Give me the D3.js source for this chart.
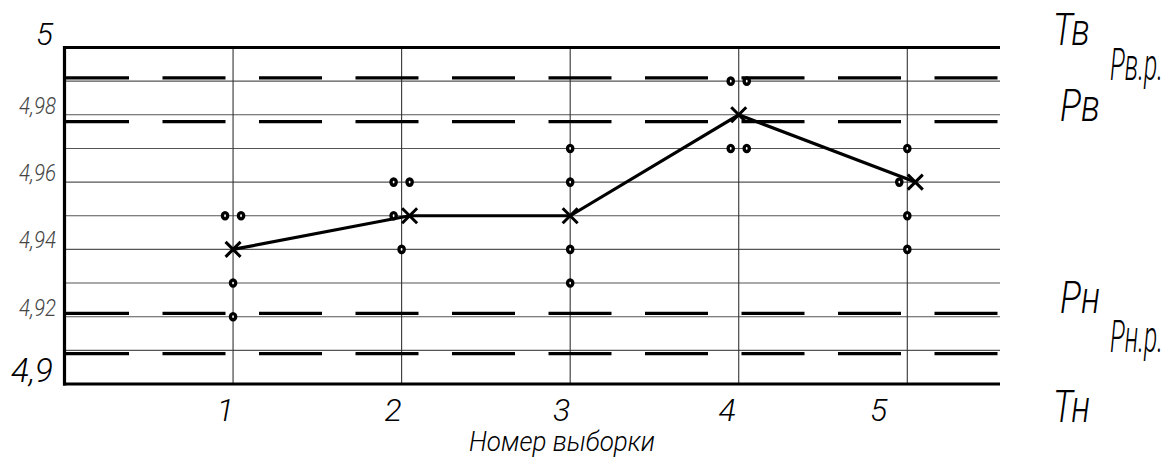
<!DOCTYPE html>
<html><head><meta charset="utf-8">
<script src="https://cdn.jsdelivr.net/npm/d3@7"></script>
<style>
html,body{margin:0;padding:0;background:#fff;}
svg{display:block;}
text{font-family:Roboto,"DejaVu Sans",sans-serif;font-style:italic;font-weight:300;}
</style></head>
<body>
<svg id="chart" width="1175" height="459"></svg>
<script>
// ---------------- data ----------------
const samples = [1, 2, 3, 4, 5];
const sampleValues = [
  [4.95, 4.95, 4.94, 4.93, 4.92],
  [4.96, 4.96, 4.95, 4.95, 4.94],
  [4.97, 4.96, 4.95, 4.94, 4.93],
  [4.99, 4.99, 4.98, 4.97, 4.97],
  [4.97, 4.96, 4.96, 4.95, 4.94]
];
const sampleMeans = [4.94, 4.95, 4.95, 4.98, 4.96];
const gridValues = [4.91, 4.92, 4.93, 4.94, 4.95, 4.96, 4.97, 4.98, 4.99];
const yTickValues = [4.92, 4.94, 4.96, 4.98];
const yTickLabels = ["4,92", "4,94", "4,96", "4,98"];
const yEndValues = [4.9, 5.0];
const yEndLabels = ["4,9", "5"];
const limitNames = ["Тв", "Рв.р.", "Рв", "Рн", "Рн.р.", "Тн"];
const limitValues = [5.0, 4.991, 4.978, 4.921, 4.909, 4.9];
const xTitle = "Номер выборки";

// ---------------- layout ----------------
(function () {
const svg = d3.select("#chart");
const L = 64.5, R = 1000, T = 47.5, B = 384;
const x = d3.scaleLinear().domain([0, 5.55]).range([L, R]);
const y = d3.scaleLinear().domain([4.9, 5.0]).range([B, T]);

// text compressed horizontally to a target width (narrow drafting style)
function txt(str, tx, ty, size, opts = {}) {
  const g = svg.append("g").attr("transform", `translate(${tx},${ty})`);
  const t = g.append("text")
    .attr("x", 0).attr("y", 0)
    .attr("font-size", size)
    .attr("text-anchor", opts.anchor || "start")
    .attr("fill", opts.fill || "#000")
    .text(str);
  if (opts.len) {
    const w = t.node().getComputedTextLength();
    const k = w > 0 ? opts.len / w : 1;
    t.attr("transform", `scale(${k},1)`);
  }
  return t;
}

// horizontal grid lines
svg.append("g").selectAll("line").data(gridValues).join("line")
  .attr("x1", L).attr("x2", R)
  .attr("y1", d => y(d)).attr("y2", d => y(d))
  .attr("stroke", "#555").attr("stroke-width", 1.1);

// vertical grid lines
svg.append("g").selectAll("line").data(samples).join("line")
  .attr("x1", d => x(d)).attr("x2", d => x(d))
  .attr("y1", T).attr("y2", B)
  .attr("stroke", "#333").attr("stroke-width", 1.1);

// limit lines: T solid (frame), P dashed
limitNames.forEach((n, i) => {
  const v = limitValues[i];
  const isT = n[0] === "Т";
  svg.append("line")
    .attr("x1", isT ? L - 1.5 : L + 1.5).attr("x2", R)
    .attr("y1", y(v)).attr("y2", y(v))
    .attr("stroke", "#000").attr("stroke-width", 3.2)
    .attr("stroke-dasharray", isT ? null : "63 33.5");
});
// left border
svg.append("line").attr("x1", L).attr("x2", L)
  .attr("y1", T - 1.5).attr("y2", B + 1.5)
  .attr("stroke", "#000").attr("stroke-width", 3.2);

const off = 8;
function dotOffsets(vals) {
  return vals.map((v, j) => {
    const same = vals.filter(w => w === v).length;
    if (same < 2) return 0;
    return vals.indexOf(v) === j ? -off : off;
  });
}
const meanPts = samples.map((s, i) => {
  const vals = sampleValues[i];
  const offs = dotOffsets(vals);
  let o = 0;
  vals.forEach((v, j) => { if (v === sampleMeans[i]) o = offs[j]; });
  return { s, v: sampleMeans[i], o };
});

svg.append("path").datum(meanPts)
  .attr("d", d3.line().x(d => x(d.s) + d.o).y(d => y(d.v)))
  .attr("fill", "none").attr("stroke", "#000").attr("stroke-width", 3.2);

const dots = [];
samples.forEach((s, i) => {
  const vals = sampleValues[i];
  const offs = dotOffsets(vals);
  vals.forEach((v, j) => {
    if (v === meanPts[i].v && offs[j] === meanPts[i].o) return;
    dots.push({ s, v, o: offs[j] });
  });
});
svg.append("g").selectAll("ellipse").data(dots).join("ellipse")
  .attr("cx", d => x(d.s) + d.o).attr("cy", d => y(d.v)).attr("rx", 2.6).attr("ry", 3.1)
  .attr("fill", "#fff").attr("stroke", "#000").attr("stroke-width", 3.4);

const cs = 7.5;
svg.append("g").selectAll("path").data(meanPts).join("path")
  .attr("d", d => {
    const cx = x(d.s) + d.o, cy = y(d.v);
    return `M${cx - cs},${cy - cs}L${cx + cs},${cy + cs}M${cx - cs},${cy + cs}L${cx + cs},${cy - cs}`;
  })
  .attr("stroke", "#000").attr("stroke-width", 3).attr("fill", "none");

yTickValues.forEach((v, i) => {
  txt(yTickLabels[i], 56, y(v) - 1, 23, { anchor: "end", fill: "#444", len: 37 });
});
txt(yEndLabels[1], 53, y(yEndValues[1]) - 3, 32, { anchor: "end", len: 17 });
txt(yEndLabels[0], 53, y(yEndValues[0]) - 2, 33, { anchor: "end", len: 42 });

const xLabelShift = [1, 0, 0, -3, -20];
samples.forEach((s, i) => {
  txt(String(s), x(s) + xLabelShift[i], 421, 32, { anchor: "end" });
});
txt(xTitle, 562, 451, 28, { anchor: "middle", len: 186 });

const limX = [1053, 1110, 1060, 1060, 1110, 1053];
const limDy = [-3, 2, -1, 0, -2, 38];
const limW = [37, 53, 40, 40, 53, 37];
limitNames.forEach((n, i) => {
  txt(n, limX[i], y(limitValues[i]) + limDy[i], 44, { len: limW[i] });
});
})();
</script>
</body></html>
